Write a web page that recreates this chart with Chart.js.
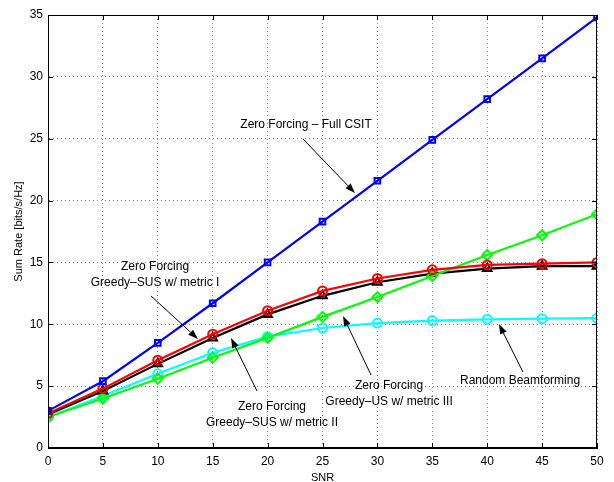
<!DOCTYPE html>
<html>
<head>
<meta charset="utf-8">
<script src="https://cdn.jsdelivr.net/npm/chart.js@4.4.1/dist/chart.umd.min.js"></script>
<style>
html,body{margin:0;padding:0;background:#fff;}
#wrap{width:614px;height:482px;}
</style>
</head>
<body>
<div id="wrap"><canvas id="c" width="614" height="482"></canvas></div>
<script>
const snr = [0, 5, 10, 15, 20, 25, 30, 35, 40, 45, 50];
const zfFullCsit = [3.0, 5.4, 8.5, 11.7, 15.0, 18.3, 21.6, 24.9, 28.2, 31.5, 34.8];
const greedySusMetricI = [2.8, 4.8, 7.1, 9.2, 11.1, 12.7, 13.7, 14.4, 14.8, 14.9, 15.0];
const greedySusMetricII = [2.7, 4.6, 6.8, 8.9, 10.8, 12.3, 13.4, 14.1, 14.5, 14.7, 14.7];
const greedyUsMetricIII = [2.5, 4.0, 5.6, 7.3, 8.9, 10.6, 12.2, 13.9, 15.6, 17.2, 18.9];
const randomBf = [2.5, 4.2, 6.0, 7.7, 9.0, 9.7, 10.1, 10.3, 10.4, 10.45, 10.5];
const yTicks = [0, 5, 10, 15, 20, 25, 30, 35];
const xTicks = [0, 5, 10, 15, 20, 25, 30, 35, 40, 45, 50];

// annotation texts (anchor in data coords) and arrows (from -> to, data coords)
const annoTexts = [
  {lines: ['Zero Forcing \u2013 Full CSIT'], x: 23.5, y: 26.1},
  {lines: ['Zero Forcing', 'Greedy\u2013SUS w/ metric I'], x: 9.75, y: 14.63},
  {lines: ['Zero Forcing', 'Greedy\u2013SUS w/ metric II'], x: 20.4, y: 3.31},
  {lines: ['Zero Forcing', 'Greedy\u2013US w/ metric III'], x: 31.06, y: 5.01},
  {lines: ['Random Beamforming'], x: 42.99, y: 5.42}
];
const annoArrows = [
  {x0: 23.22, y0: 24.98, x1: 27.96, y1: 20.61},
  {x0: 9.38, y0: 12.29, x1: 13.66, y1: 8.81},
  {x0: 19.03, y0: 4.61, x1: 16.67, y1: 8.89},
  {x0: 29.42, y0: 5.90, x1: 26.87, y1: 10.67},
  {x0: 43.26, y0: 6.14, x1: 41.07, y1: 10.02}
];

const FONT = '"Liberation Sans", Arial, sans-serif';

function mk(label, vals, color, style, rad) {
  return {
    label: label,
    data: snr.map((s, i) => ({x: s, y: vals[i]})),
    borderColor: color,
    backgroundColor: color,
    pointBorderColor: color,
    pointBackgroundColor: 'rgba(0,0,0,0)',
    pointStyle: style,
    pointRadius: rad,
    pointBorderWidth: 2,
    borderWidth: 2.2,
    tension: 0,
    fill: false
  };
}

const framePlugin = {
  id: 'frame',
  afterDraw(chart) {
    const ctx = chart.ctx, a = chart.chartArea;
    const xs = chart.scales.x, ys = chart.scales.y;
    ctx.save();
    ctx.setLineDash([]);
    ctx.strokeStyle = '#000';
    ctx.lineWidth = 1;
    ctx.strokeRect(a.left + 0.5, a.top + 0.5, a.right - a.left - 1, a.bottom - a.top - 1);
    const tl = 5;
    ctx.beginPath();
    xTicks.forEach(v => {
      const px = Math.round(xs.getPixelForValue(v)) + 0.5;
      ctx.moveTo(px, a.bottom); ctx.lineTo(px, a.bottom - tl);
      ctx.moveTo(px, a.top); ctx.lineTo(px, a.top + tl);
    });
    yTicks.forEach(v => {
      const py = Math.round(ys.getPixelForValue(v)) + 0.5;
      ctx.moveTo(a.left, py); ctx.lineTo(a.left + tl, py);
      ctx.moveTo(a.right, py); ctx.lineTo(a.right - tl, py);
    });
    ctx.stroke();

    // annotations
    ctx.fillStyle = '#000';
    ctx.font = '12px ' + FONT;
    ctx.textAlign = 'center';
    ctx.textBaseline = 'middle';
    annoTexts.forEach(t => {
      const px = xs.getPixelForValue(t.x), py = ys.getPixelForValue(t.y);
      t.lines.forEach((ln, i) => ctx.fillText(ln, px, py + i * 15.5));
    });
    annoArrows.forEach(ar => {
      const x0 = xs.getPixelForValue(ar.x0), y0 = ys.getPixelForValue(ar.y0);
      const x1 = xs.getPixelForValue(ar.x1), y1 = ys.getPixelForValue(ar.y1);
      const ang = Math.atan2(y1 - y0, x1 - x0);
      const hl = 10, hw = 3.5;
      const bx = x1 - hl * Math.cos(ang), by = y1 - hl * Math.sin(ang);
      ctx.beginPath();
      ctx.lineWidth = 1;
      ctx.moveTo(x0, y0); ctx.lineTo(bx, by);
      ctx.stroke();
      ctx.beginPath();
      ctx.moveTo(x1, y1);
      ctx.lineTo(bx + hw * Math.sin(ang), by - hw * Math.cos(ang));
      ctx.lineTo(bx - hw * Math.sin(ang), by + hw * Math.cos(ang));
      ctx.closePath();
      ctx.fill();
    });
    ctx.restore();
  }
};

new Chart(document.getElementById('c'), {
  type: 'line',
  data: {
    datasets: [
      mk('Zero Forcing - Full CSIT', zfFullCsit, '#0000ff', 'rect', 4),
      mk('Greedy-SUS metric I', greedySusMetricI, '#ff0000', 'circle', 4.5),
      mk('Greedy-US metric III', greedyUsMetricIII, '#00ff00', 'rectRot', 5),
      mk('Greedy-SUS metric II', greedySusMetricII, '#000000', 'triangle', 5),
      mk('Random Beamforming', randomBf, '#00ffff', 'circle', 4.5)
    ]
  },
  options: {
    responsive: false,
    animation: false,
    layout: {padding: {left: 0, right: 17, top: 15, bottom: 0}},
    plugins: {legend: {display: false}, tooltip: {enabled: false}},
    scales: {
      x: {
        type: 'linear', min: 0, max: 50,
        afterBuildTicks(s) { s.ticks = xTicks.map(v => ({value: v})); },
        afterFit(s) { s.height = 34; },
        grid: {color: '#8a8a8a', lineWidth: 1, drawTicks: false},
        border: {display: true, color: '#000', dash: [1, 3], width: 1},
        ticks: {color: '#000', padding: 6, maxRotation: 0, font: {family: FONT, size: 12}},
        title: {display: true, text: 'SNR', color: '#000', padding: {top: 0, bottom: -3}, font: {family: FONT, size: 11}}
      },
      y: {
        type: 'linear', min: 0, max: 35,
        afterBuildTicks(s) { s.ticks = yTicks.map(v => ({value: v})); },
        afterFit(s) { s.width = 48; },
        grid: {color: '#8a8a8a', lineWidth: 1, drawTicks: false},
        border: {display: true, color: '#000', dash: [1, 3], width: 1},
        ticks: {color: '#000', padding: 5, font: {family: FONT, size: 12}},
        title: {display: true, text: 'Sum Rate [bits/s/Hz]', color: '#000', padding: {top: 12, bottom: 0}, font: {family: FONT, size: 11}}
      }
    }
  },
  plugins: [framePlugin]
});
</script>
</body>
</html>
